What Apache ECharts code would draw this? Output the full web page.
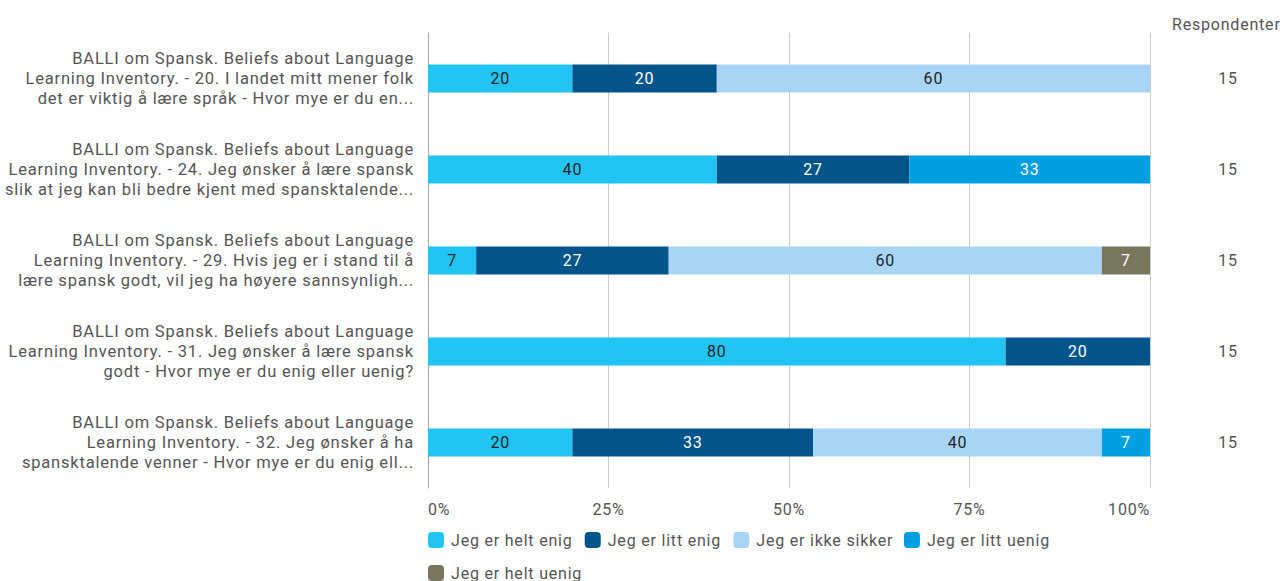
<!DOCTYPE html>
<html>
<head>
<meta charset="utf-8">
<script src="https://cdn.jsdelivr.net/npm/echarts@6/dist/echarts.min.js"></script>
<style>
  html, body { margin: 0; padding: 0; background: #fff; }
  #chart { width: 1285px; height: 581px; }
  /* slightly tracked-out lettering for all chart text */
  #chart svg text { letter-spacing: 0.8px; }
</style>
</head>
<body>
<div id="chart"></div>
<script>
// Survey questions (already wrapped for the axis)
const categories = [
  'BALLI om Spansk. Beliefs about Language\nLearning Inventory. - 20. I landet mitt mener folk\ndet er viktig å lære språk - Hvor mye er du en...',
  'BALLI om Spansk. Beliefs about Language\nLearning Inventory. - 24. Jeg ønsker å lære spansk\nslik at jeg kan bli bedre kjent med spansktalende...',
  'BALLI om Spansk. Beliefs about Language\nLearning Inventory. - 29. Hvis jeg er i stand til å\nlære spansk godt, vil jeg ha høyere sannsynligh...',
  'BALLI om Spansk. Beliefs about Language\nLearning Inventory. - 31. Jeg ønsker å lære spansk\ngodt - Hvor mye er du enig eller uenig?',
  'BALLI om Spansk. Beliefs about Language\nLearning Inventory. - 32. Jeg ønsker å ha\nspansktalende venner - Hvor mye er du enig ell...'
];

// Share of answers (%) per response option
const heltEnig   = [20, 40, 6.67, 80, 20];
const littEnig   = [20, 26.67, 26.67, 20, 33.33];
const ikkeSikker = [60, 0, 60, 0, 40];
const littUenig  = [0, 33.33, 0, 0, 6.67];
const heltUenig  = [0, 0, 6.67, 0, 0];

const respondents = [15, 15, 15, 15, 15];
const xTicks = [0, 25, 50, 75, 100];

const FONT = 'Roboto, "Noto Sans", sans-serif';

function makeSeries(name, data, color, labelColor) {
  return {
    name: name,
    type: 'bar',
    stack: 'total',
    data: data,
    barWidth: 28,
    itemStyle: { color: color },
    label: {
      show: true,
      position: 'inside',
      color: labelColor,
      fontSize: 16,
      fontFamily: FONT,
      formatter: p => (p.value > 0 ? String(Math.round(p.value)) : '')
    },
    emphasis: { disabled: true }
  };
}

const chart = echarts.init(document.getElementById('chart'), null, { renderer: 'svg' });
chart.setOption({
  animation: false,
  textStyle: { fontFamily: FONT },
  grid: { left: 428, right: 135, top: 33, bottom: 93, containLabel: false, outerBoundsMode: 'none' },
  legend: {
    left: 423,
    top: 525,
    width: 640,
    itemWidth: 16,
    itemHeight: 16,
    itemGap: 13,
    icon: 'roundRect',
    textStyle: { fontSize: 16, lineHeight: 20, color: '#555', fontFamily: FONT, padding: [0, 12, 0, 2] },
    data: ['Jeg er helt enig', 'Jeg er litt enig', 'Jeg er ikke sikker', 'Jeg er litt uenig', 'Jeg er helt uenig']
  },
  xAxis: {
    type: 'value',
    min: xTicks[0],
    max: xTicks[xTicks.length - 1],
    interval: 25,
    axisLine: { show: false },
    axisTick: { show: false },
    splitLine: { show: true, lineStyle: { color: '#cccccc', width: 1 } },
    axisLabel: {
      formatter: '{value}%',
      color: '#555',
      fontSize: 16,
      margin: 13,
      alignMinLabel: 'left',
      alignMaxLabel: 'right'
    }
  },
  yAxis: [
    {
      type: 'category',
      data: categories,
      inverse: true,
      axisLine: { show: true, lineStyle: { color: '#a6a6a6', width: 1 } },
      axisTick: { show: false },
      axisLabel: {
        color: '#555',
        fontSize: 16.5,
        lineHeight: 20,
        margin: 14,
        align: 'right',
        padding: [2, 0, 0, 0]
      }
    },
    {
      type: 'category',
      data: respondents,
      inverse: true,
      position: 'right',
      axisLine: { show: false },
      axisTick: { show: false },
      axisLabel: { color: '#555', fontSize: 16, align: 'center', margin: 78 }
    }
  ],
  graphic: [
    {
      type: 'text',
      left: 1172,
      top: 16,
      style: { text: 'Respondenter', fill: '#555', font: '16px ' + FONT }
    }
  ],
  series: [
    makeSeries('Jeg er helt enig', heltEnig, '#21c4f3', '#222'),
    makeSeries('Jeg er litt enig', littEnig, '#02548a', '#fff'),
    makeSeries('Jeg er ikke sikker', ikkeSikker, '#a8d5f5', '#222'),
    makeSeries('Jeg er litt uenig', littUenig, '#009fe1', '#fff'),
    makeSeries('Jeg er helt uenig', heltUenig, '#79765e', '#fff')
  ]
});
</script>
</body>
</html>
